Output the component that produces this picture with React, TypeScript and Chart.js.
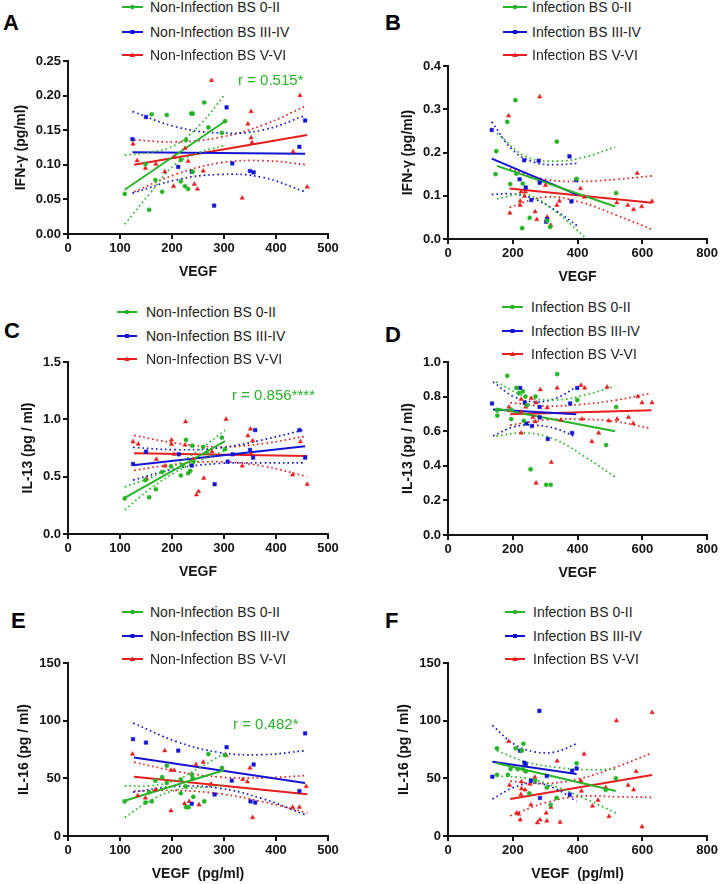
import React, { useEffect, useRef } from 'react';
import { Chart, registerables } from 'chart.js';
Chart.register(...registerables);

type Pt = [number, number];

const GREEN = 'rgb(40,180,40)';
const BLUE = 'rgb(20,20,210)';
const RED = 'rgb(230,30,30)';
const FONT = '"Liberation Sans", Arial, Helvetica, sans-serif';

// ---------- legend / labels ----------
const LEGEND_NON = ['Non-Infection BS 0-II', 'Non-Infection BS III-IV', 'Non-Infection BS V-VI'];
const LEGEND_INF = ['Infection BS 0-II', 'Infection BS III-IV', 'Infection BS V-VI'];

const X_TICKS_500 = ['0', '100', '200', '300', '400', '500'];
const X_TICKS_800 = ['0', '200', '400', '600', '800'];
const Y_TICKS_A = ['0.00', '0.05', '0.10', '0.15', '0.20', '0.25'];
const Y_TICKS_B = ['0.0', '0.1', '0.2', '0.3', '0.4'];
const Y_TICKS_C = ['0.0', '0.5', '1.0', '1.5'];
const Y_TICKS_D = ['0.0', '0.2', '0.4', '0.6', '0.8', '1.0'];
const Y_TICKS_EF = ['0', '50', '100', '150'];

// ---------- Panel A : IFN-γ, Non-Infection ----------
const A_G_PTS: Pt[] = [[109,0.058],[149,0.101],[156,0.035],[161,0.173],[168,0.078],[181,0.061],[190,0.172],[217,0.107],[217,0.076],[225,0.069],[227,0.136],[231,0.065],[237,0.174],[240,0.174],[240,0.090],[262,0.190],[270,0.154],[296,0.146],[302,0.163]];
const A_B_PTS: Pt[] = [[124,0.137],[150,0.169],[212,0.097],[238,0.090],[281,0.041],[305,0.183],[316,0.102],[350,0.091],[357,0.089],[445,0.126],[456,0.164]];
const A_R_PTS: Pt[] = [[125,0.130],[133,0.106],[149,0.095],[169,0.101],[186,0.090],[203,0.069],[204,0.111],[225,0.124],[231,0.105],[243,0.072],[249,0.065],[260,0.091],[276,0.222],[335,0.052],[346,0.159],[352,0.177],[352,0.139],[354,0.132],[433,0.119],[446,0.200],[460,0.068]];
const A_G_FIT: Pt[] = [[109,0.064],[302,0.163]];
const A_B_FIT: Pt[] = [[124,0.118],[456,0.116]];
const A_R_FIT: Pt[] = [[127,0.100],[460,0.143]];
const A_G_CI_X = [109,157,205,254,302];
const A_G_CI_UP = [0.114,0.118,0.128,0.158,0.202];
const A_G_CI_LO = [0.014,0.058,0.100,0.118,0.128];
const A_B_CI_X = [124,207,290,373,456];
const A_B_CI_UP = [0.177,0.155,0.146,0.150,0.171];
const A_B_CI_LO = [0.059,0.078,0.086,0.082,0.061];
const A_R_CI_X = [127,210,294,377,460];
const A_R_CI_UP = [0.136,0.133,0.140,0.158,0.186];
const A_R_CI_LO = [0.061,0.087,0.103,0.106,0.100];

// ---------- Panel B : IFN-γ, Infection ----------
const B_G_PTS: Pt[] = [[147,0.150],[149,0.203],[183,0.271],[192,0.127],[208,0.321],[211,0.151],[229,0.025],[231,0.128],[252,0.049],[306,0.042],[315,0.028],[336,0.225],[397,0.139],[519,0.106]];
const B_B_PTS: Pt[] = [[135,0.252],[221,0.138],[235,0.182],[240,0.119],[257,0.090],[280,0.181],[283,0.130],[303,0.040],[306,0.046],[375,0.191],[381,0.087],[396,0.136]];
const B_R_PTS: Pt[] = [[187,0.285],[191,0.060],[223,0.088],[223,0.078],[226,0.109],[236,0.099],[239,0.109],[269,0.063],[274,0.045],[283,0.329],[301,0.124],[306,0.051],[317,0.032],[336,0.078],[344,0.088],[409,0.117],[421,0.097],[521,0.084],[555,0.078],[573,0.068],[584,0.152],[598,0.075],[630,0.087]];
const B_G_FIT: Pt[] = [[151,0.169],[516,0.075]];
const B_B_FIT: Pt[] = [[135,0.186],[400,0.102]];
const B_R_FIT: Pt[] = [[190,0.117],[629,0.084]];
const B_G_CI_X = [151,242,334,425,516];
const B_G_CI_UP = [0.245,0.190,0.180,0.190,0.213];
const B_G_CI_LO = [0.093,0.103,0.062,0.002,-0.060];
const B_B_CI_X = [135,201,268,334,400];
const B_B_CI_UP = [0.271,0.205,0.177,0.172,0.175];
const B_B_CI_LO = [0.103,0.104,0.092,0.065,0.030];
const B_R_CI_X = [190,300,410,520,630];
const B_R_CI_UP = [0.162,0.138,0.133,0.138,0.146];
const B_R_CI_LO = [0.073,0.097,0.085,0.055,0.022];

// ---------- Panel C : IL-13, Non-Infection ----------
const C_G_PTS: Pt[] = [[109,0.31],[149,0.47],[156,0.32],[169,0.39],[181,0.54],[198,0.59],[217,0.51],[220,0.60],[227,0.82],[231,0.53],[235,0.55],[239,0.77],[241,0.63],[260,0.76],[267,0.71],[296,0.84],[302,0.74]];
const C_B_PTS: Pt[] = [[125,0.611],[150,0.718],[213,0.695],[238,0.597],[282,0.434],[307,0.631],[317,0.695],[350,0.733],[356,0.666],[360,0.906],[445,0.906],[456,0.666]];
const C_R_PTS: Pt[] = [[125,0.805],[135,0.785],[151,0.481],[170,0.652],[186,0.594],[199,0.82],[199,0.782],[204,0.695],[225,0.776],[226,0.979],[241,0.652],[247,0.342],[251,0.371],[261,0.487],[277,0.718],[304,1.0],[335,0.594],[346,0.857],[351,0.915],[352,0.70],[355,0.814],[432,0.516],[447,0.805],[460,0.434]];
const C_G_FIT: Pt[] = [[109,0.315],[302,0.811]];
const C_B_FIT: Pt[] = [[125,0.600],[456,0.765]];
const C_R_FIT: Pt[] = [[127,0.705],[460,0.680]];
const C_G_CI_X = [109,157,205,254,302];
const C_G_CI_UP = [0.41,0.49,0.595,0.74,0.905];
const C_G_CI_LO = [0.21,0.39,0.535,0.64,0.73];
const C_B_CI_X = [125,208,290,373,456];
const C_B_CI_UP = [0.755,0.735,0.75,0.82,0.91];
const C_B_CI_LO = [0.47,0.57,0.615,0.62,0.62];
const C_R_CI_X = [127,210,294,377,460];
const C_R_CI_UP = [0.86,0.79,0.76,0.79,0.855];
const C_R_CI_LO = [0.555,0.61,0.63,0.59,0.50];

// ---------- Panel D : IL-13, Infection ----------
const D_G_PTS: Pt[] = [[152,0.72],[152,0.69],[183,0.92],[195,0.725],[195,0.67],[211,0.85],[219,0.82],[231,0.83],[234,0.66],[239,0.80],[244,0.75],[255,0.38],[270,0.80],[303,0.29],[317,0.29],[337,0.93],[399,0.78],[488,0.52],[519,0.74]];
const D_B_PTS: Pt[] = [[136,0.76],[223,0.85],[237,0.765],[242,0.645],[259,0.63],[283,0.74],[283,0.68],[308,0.555],[377,0.76],[383,0.59],[399,0.85]];
const D_R_PTS: Pt[] = [[188,0.74],[192,0.72],[226,0.785],[226,0.71],[226,0.59],[240,0.74],[257,0.79],[262,0.68],[270,0.655],[272,0.765],[272,0.30],[285,0.84],[306,0.735],[319,0.42],[337,0.85],[348,0.665],[411,0.865],[414,0.67],[422,0.85],[444,0.54],[465,0.59],[491,0.855],[497,0.66],[522,0.67],[557,0.68],[572,0.645],[586,0.80],[599,0.765],[630,0.765]];
const D_G_FIT: Pt[] = [[149,0.731],[516,0.600]];
const D_B_FIT: Pt[] = [[139,0.725],[396,0.698]];
const D_R_FIT: Pt[] = [[192,0.698],[628,0.721]];
const D_G_CI_X = [149,241,333,424,516];
const D_G_CI_UP = [0.885,0.80,0.78,0.81,0.86];
const D_G_CI_LO = [0.572,0.59,0.55,0.45,0.335];
const D_B_CI_X = [139,203,268,332,396];
const D_B_CI_UP = [0.885,0.80,0.77,0.79,0.855];
const D_B_CI_LO = [0.572,0.625,0.635,0.615,0.565];
const D_R_CI_X = [192,301,410,519,628];
const D_R_CI_UP = [0.765,0.745,0.755,0.78,0.82];
const D_R_CI_LO = [0.635,0.665,0.67,0.655,0.615];

// ---------- Panel E : IL-16, Non-Infection ----------
const E_G_PTS: Pt[] = [[109,30],[149,29],[156,38],[161,30],[168,48],[181,51],[190,61],[190,46],[217,37],[217,49],[226,43],[227,25],[232,25],[238,53],[240,50],[241,34],[262,30],[270,71],[296,59],[302,70]];
const E_B_PTS: Pt[] = [[125,84],[150,81],[212,74],[238,28],[282,36],[305,77],[315,48],[351,30],[357,62],[360,29],[445,39],[456,89]];
const E_R_PTS: Pt[] = [[124,71],[134,35],[149,33],[168,40],[186,74],[198,57],[198,22],[204,57],[224,28],[233,30],[246,62],[252,27],[260,64],[275,45],[304,70],[336,49],[345,47],[350,59],[355,16],[432,25],[445,25],[458,43]];
const E_G_FIT: Pt[] = [[109,30.5],[300,57]];
const E_B_FIT: Pt[] = [[127,68],[456,46]];
const E_R_FIT: Pt[] = [[127,51.4],[460,36.1]];
const E_G_CI_X = [109,157,205,252,300];
const E_G_CI_UP = [43.5,43.5,48,59,71.5];
const E_G_CI_LO = [16,30.5,39.5,42,44];
const E_B_CI_X = [125,208,290,373,456];
const E_B_CI_UP = [98,82,72.5,70.5,74];
const E_B_CI_LO = [38,43,41.5,32.5,18.5];
const E_R_CI_X = [127,210,294,377,460];
const E_R_CI_UP = [64,56,51,50.5,52.5];
const E_R_CI_LO = [39,39.5,36.5,29.5,20];

// ---------- Panel F : IL-16, Infection ----------
const F_G_PTS: Pt[] = [[151,76],[151,53],[185,53],[193,58],[209,76],[215,58],[228,74],[231,58],[233,80],[240,56],[251,37],[269,48],[305,42],[317,27],[335,33],[397,63],[487,40],[518,50]];
const F_B_PTS: Pt[] = [[137,51.4],[222,74],[236,63.5],[240,62],[256,48],[282,108.5],[284,33],[305,52],[376,36],[383,56.5],[397,58.6]];
const F_R_PTS: Pt[] = [[187,82],[190,44],[212,20],[218,19],[223,14],[225,36],[227,47],[227,41],[238,40],[253,45],[256,27],[268,51],[276,11.5],[284,14],[303,20],[305,13],[318,25],[337,65],[346,12],[410,48],[412,39],[420,71],[446,26],[463,31],[487,42],[497,17],[520,100],[556,44],[573,40],[581,56],[599,8],[630,107]];
const F_G_FIT: Pt[] = [[151,63],[518,39]];
const F_B_FIT: Pt[] = [[137,64.3],[397,53.7]];
const F_R_FIT: Pt[] = [[192,32],[630,52.8]];
const F_G_CI_X = [151,243,335,426,518];
const F_G_CI_UP = [74,64,59.5,57.5,58];
const F_G_CI_LO = [52,50,42.5,32,20];
const F_B_CI_X = [137,202,267,332,397];
const F_B_CI_UP = [96,80,73,73,80];
const F_B_CI_LO = [32,42,46,41,30];
const F_R_CI_X = [192,302,411,521,630];
const F_R_CI_UP = [47.5,45.5,50,60,72];
const F_R_CI_LO = [17.5,29,34.5,34,33.5];

// ---------- helpers ----------
type Style = 'circle' | 'rect' | 'triangle';
interface SeriesDef { pts: Pt[]; fit: Pt[]; ciX: number[]; ciUp: number[]; ciLo: number[]; color: string; style: Style; }

const STYLES: Style[] = ['circle', 'rect', 'triangle'];
const COLORS = [GREEN, BLUE, RED];

function mk(pts: Pt[], fit: Pt[], ciX: number[], ciUp: number[], ciLo: number[], k: number): SeriesDef {
  return { pts, fit, ciX, ciUp, ciLo, color: COLORS[k], style: STYLES[k] };
}

function buildDatasets(series: SeriesDef[]) {
  const ds: any[] = [];
  series.forEach((s) => {
    ds.push({
      data: s.pts.map(([x, y]) => ({ x, y })),
      showLine: false,
      pointStyle: s.style,
      pointRadius: s.style === 'circle' ? 2.1 : 2.5,
      pointBackgroundColor: s.color,
      pointBorderColor: s.color,
      pointBorderWidth: 0.5,
    });
  });
  series.forEach((s) => {
    [s.ciUp, s.ciLo].forEach((arr) => {
      ds.push({
        data: s.ciX.map((x, i) => ({ x, y: arr[i] })),
        showLine: true,
        pointRadius: 0,
        borderColor: s.color,
        borderWidth: 1.7,
        borderDash: [1.6, 3],
        tension: 0.4,
        fill: false,
      });
    });
    ds.push({
      data: s.fit.map(([x, y]) => ({ x, y })),
      showLine: true,
      pointRadius: 0,
      borderColor: s.color,
      borderWidth: 2,
      fill: false,
    });
  });
  return ds;
}

interface PanelCfg {
  letter: string;
  colX: number;
  L: number; R: number; T: number; B: number;
  xMax: number; xStep: number; xLabels: string[]; xTitle: string;
  yMax: number; yStep: number; yLabels: string[]; yTitle: string; yTitlePad: number;
  series: SeriesDef[];
  legend: string[];
  legLine: [number, number]; legText: number; legRows: number[];
  letterX: number; letterTop: number;
  rText?: string; rX?: number; rY?: number;
}

const PANELS: PanelCfg[] = [
  {
    letter: 'A', colX: 0, L: 68, R: 328, T: 61, B: 234,
    xMax: 500, xStep: 100, xLabels: X_TICKS_500, xTitle: 'VEGF',
    yMax: 0.25, yStep: 0.05, yLabels: Y_TICKS_A, yTitle: 'IFN-γ (pg/ml)', yTitlePad: 12.6,
    series: [mk(A_G_PTS, A_G_FIT, A_G_CI_X, A_G_CI_UP, A_G_CI_LO, 0), mk(A_B_PTS, A_B_FIT, A_B_CI_X, A_B_CI_UP, A_B_CI_LO, 1), mk(A_R_PTS, A_R_FIT, A_R_CI_X, A_R_CI_UP, A_R_CI_LO, 2)],
    legend: LEGEND_NON, legLine: [122, 143], legText: 150, legRows: [7, 32, 55],
    letterX: 3, letterTop: 15, rText: 'r = 0.515*', rX: 238, rY: 80,
  },
  {
    letter: 'B', colX: 360, L: 448, R: 708, T: 66, B: 239,
    xMax: 800, xStep: 200, xLabels: X_TICKS_800, xTitle: 'VEGF',
    yMax: 0.4, yStep: 0.1, yLabels: Y_TICKS_B, yTitle: 'IFN-γ (pg/ml)', yTitlePad: 39.6,
    series: [mk(B_G_PTS, B_G_FIT, B_G_CI_X, B_G_CI_UP, B_G_CI_LO, 0), mk(B_B_PTS, B_B_FIT, B_B_CI_X, B_B_CI_UP, B_B_CI_LO, 1), mk(B_R_PTS, B_R_FIT, B_R_CI_X, B_R_CI_UP, B_R_CI_LO, 2)],
    legend: LEGEND_INF, legLine: [503, 527], legText: 532, legRows: [7, 32, 55],
    letterX: 385, letterTop: 15,
  },
  {
    letter: 'C', colX: 0, L: 68, R: 328, T: 362, B: 534,
    xMax: 500, xStep: 100, xLabels: X_TICKS_500, xTitle: 'VEGF',
    yMax: 1.5, yStep: 0.5, yLabels: Y_TICKS_C, yTitle: 'IL-13 (pg / ml)', yTitlePad: 19.6,
    series: [mk(C_G_PTS, C_G_FIT, C_G_CI_X, C_G_CI_UP, C_G_CI_LO, 0), mk(C_B_PTS, C_B_FIT, C_B_CI_X, C_B_CI_UP, C_B_CI_LO, 1), mk(C_R_PTS, C_R_FIT, C_R_CI_X, C_R_CI_UP, C_R_CI_LO, 2)],
    legend: LEGEND_NON, legLine: [117, 137], legText: 146, legRows: [312, 336, 359],
    letterX: 4, letterTop: 323, rText: 'r = 0.856****', rX: 232, rY: 395,
  },
  {
    letter: 'D', colX: 360, L: 448, R: 708, T: 362, B: 535,
    xMax: 800, xStep: 200, xLabels: X_TICKS_800, xTitle: 'VEGF',
    yMax: 1.0, yStep: 0.2, yLabels: Y_TICKS_D, yTitle: 'IL-13 (pg / ml)', yTitlePad: 39.6,
    series: [mk(D_G_PTS, D_G_FIT, D_G_CI_X, D_G_CI_UP, D_G_CI_LO, 0), mk(D_B_PTS, D_B_FIT, D_B_CI_X, D_B_CI_UP, D_B_CI_LO, 1), mk(D_R_PTS, D_R_FIT, D_R_CI_X, D_R_CI_UP, D_R_CI_LO, 2)],
    legend: LEGEND_INF, legLine: [502, 523], legText: 531, legRows: [307, 331, 354],
    letterX: 385, letterTop: 327,
  },
  {
    letter: 'E', colX: 0, L: 68, R: 328, T: 663, B: 836,
    xMax: 500, xStep: 100, xLabels: X_TICKS_500, xTitle: 'VEGF  (pg/ml)',
    yMax: 150, yStep: 50, yLabels: Y_TICKS_EF, yTitle: 'IL-16 (pg / ml)', yTitlePad: 15.6,
    series: [mk(E_G_PTS, E_G_FIT, E_G_CI_X, E_G_CI_UP, E_G_CI_LO, 0), mk(E_B_PTS, E_B_FIT, E_B_CI_X, E_B_CI_UP, E_B_CI_LO, 1), mk(E_R_PTS, E_R_FIT, E_R_CI_X, E_R_CI_UP, E_R_CI_LO, 2)],
    legend: LEGEND_NON, legLine: [122, 143], legText: 150, legRows: [612, 636, 659],
    letterX: 11, letterTop: 613, rText: 'r = 0.482*', rX: 233, rY: 724,
  },
  {
    letter: 'F', colX: 360, L: 448, R: 708, T: 663, B: 836,
    xMax: 800, xStep: 200, xLabels: X_TICKS_800, xTitle: 'VEGF  (pg/ml)',
    yMax: 150, yStep: 50, yLabels: Y_TICKS_EF, yTitle: 'IL-16 (pg / ml)', yTitlePad: 35.6,
    series: [mk(F_G_PTS, F_G_FIT, F_G_CI_X, F_G_CI_UP, F_G_CI_LO, 0), mk(F_B_PTS, F_B_FIT, F_B_CI_X, F_B_CI_UP, F_B_CI_LO, 1), mk(F_R_PTS, F_R_FIT, F_R_CI_X, F_R_CI_UP, F_R_CI_LO, 2)],
    legend: LEGEND_INF, legLine: [505, 525], legText: 533, legRows: [612, 636, 659],
    letterX: 385, letterTop: 613,
  },
];

const INK = '#141414';
const PAD_TOP = 12;
const X_AXIS_H = 50;

function PanelChart({ cfg }: { cfg: PanelCfg }) {
  const ref = useRef<HTMLCanvasElement>(null);
  const width = 360;
  const height = cfg.B - cfg.T + PAD_TOP + X_AXIS_H;
  useEffect(() => {
    if (!ref.current) return;
    const tickFont = { family: FONT, size: 13, weight: 'bold' as const };
    const titleFont = { family: FONT, size: 14, weight: 'bold' as const };
    const chart = new Chart(ref.current, {
      type: 'scatter',
      data: { datasets: buildDatasets(cfg.series) },
      options: {
        responsive: false,
        animation: false,
        events: [],
        layout: { padding: { left: 0, top: PAD_TOP, right: width - (cfg.R - cfg.colX), bottom: 0 } },
        plugins: { legend: { display: false }, tooltip: { enabled: false } },
        scales: {
          x: {
            type: 'linear', min: 0, max: cfg.xMax,
            ticks: { stepSize: cfg.xStep, color: INK, font: tickFont, padding: 2, maxRotation: 0, autoSkip: false,
              callback: (_v: any, i: number) => cfg.xLabels[i] },
            grid: { drawOnChartArea: false, drawTicks: true, tickLength: 5, color: INK, lineWidth: 2 },
            border: { display: true, color: INK, width: 2 },
            title: { display: true, text: cfg.xTitle, color: INK, font: titleFont, padding: { top: 0, bottom: 3.6 } },
            afterFit: (s: any) => { s.height = X_AXIS_H; },
          },
          y: {
            type: 'linear', min: 0, max: cfg.yMax,
            ticks: { stepSize: cfg.yStep, color: INK, font: tickFont, padding: 2, autoSkip: false,
              callback: (_v: any, i: number) => cfg.yLabels[i] },
            grid: { drawOnChartArea: false, drawTicks: true, tickLength: 5, color: INK, lineWidth: 2 },
            border: { display: true, color: INK, width: 2 },
            title: { display: true, text: cfg.yTitle, color: INK, font: titleFont, padding: { top: cfg.yTitlePad, bottom: 0 } },
            afterFit: (s: any) => { s.width = cfg.L - cfg.colX; },
          },
        },
      } as any,
    });
    return () => chart.destroy();
  }, [cfg]);
  return (
    <canvas
      ref={ref}
      width={width}
      height={height}
      style={{ position: 'absolute', left: cfg.colX, top: cfg.T - PAD_TOP, width, height }}
    />
  );
}

function Marker({ style, color, cx, cy }: { style: Style; color: string; cx: number; cy: number }) {
  if (style === 'circle') return <circle cx={cx} cy={cy} r={2.2} fill={color} />;
  if (style === 'rect') return <rect x={cx - 2} y={cy - 2} width={4} height={4} fill={color} />;
  return <polygon points={`${cx},${cy - 2.6} ${cx + 2.6},${cy + 2} ${cx - 2.6},${cy + 2}`} fill={color} />;
}

function PanelOverlay({ cfg }: { cfg: PanelCfg }) {
  const [x0, x1] = cfg.legLine;
  const w = x1 - x0;
  return (
    <>
      <div style={{ position: 'absolute', left: cfg.letterX, top: cfg.letterTop - 2.85, fontFamily: FONT, fontWeight: 'bold', fontSize: 22, lineHeight: '22px', color: '#000' }}>
        {cfg.letter}
      </div>
      {cfg.legend.map((label, i) => (
        <React.Fragment key={label}>
          <svg style={{ position: 'absolute', left: x0, top: cfg.legRows[i] - 5 }} width={w} height={10}>
            <line x1={0} y1={5} x2={w} y2={5} stroke={COLORS[i]} strokeWidth={2} />
            <Marker style={STYLES[i]} color={COLORS[i]} cx={w / 2} cy={5} />
          </svg>
          <div style={{ position: 'absolute', left: cfg.legText, top: cfg.legRows[i] - 8, fontFamily: FONT, fontSize: 14, lineHeight: '16px', color: '#222', whiteSpace: 'nowrap' }}>
            {label}
          </div>
        </React.Fragment>
      ))}
      {cfg.rText ? (
        <div style={{ position: 'absolute', left: cfg.rX, top: (cfg.rY as number) - 9, fontFamily: FONT, fontSize: 15, lineHeight: '17px', color: GREEN, whiteSpace: 'nowrap' }}>
          {cfg.rText}
        </div>
      ) : null}
    </>
  );
}

export default function App() {
  return (
    <div style={{ position: 'absolute', left: 0, top: 0, width: 720, height: 884, background: '#fff', overflow: 'hidden' }}>
      {PANELS.map((p) => (
        <React.Fragment key={p.letter}>
          <PanelChart cfg={p} />
          <PanelOverlay cfg={p} />
        </React.Fragment>
      ))}
    </div>
  );
}
